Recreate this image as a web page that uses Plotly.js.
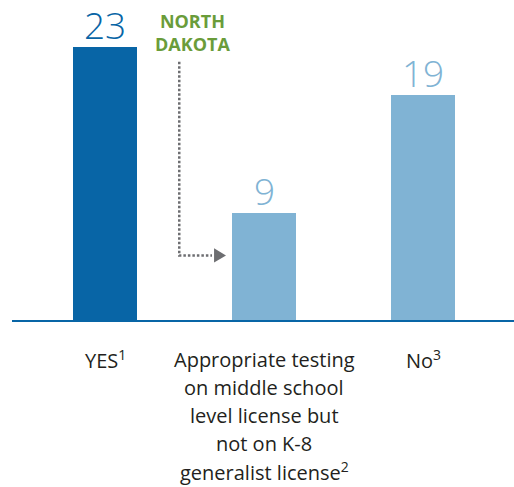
<!DOCTYPE html>
<html>
<head>
<meta charset="utf-8">
<script src="https://cdn.plot.ly/plotly-3.0.1.min.js"></script>
<style>
html,body{margin:0;padding:0;background:#fff;}
#chart{width:514px;height:487px;}
</style>
</head>
<body>
<div id="chart"></div>
<script>
// ---- data ----
const categories = ["YES", "Middle school only", "No"];
const values = [23, 9, 19];
const labelLines = [
  ["YES<sup>1</sup>"],
  ["Appropriate testing", "on middle school", "level license but", "not on K-8", "generalist license<sup>2</sup>"],
  ["No<sup>3</sup>"]
];
const barColors = ["#0865a6", "#80b3d4", "#80b3d4"];
const calloutText = "NORTH<br>DAKOTA";

// ---- layout constants ----
const W = 514, H = 487;
const mL = 12, mR = 0, mT = 0, mB = 167;
const plotH = H - mT - mB; // 320
const pxPerUnit = 11.85;
const yMax = plotH / pxPerUnit;
const catStep = 159, firstCenter = 105 - mL; // pixels within plot
const xMin = -firstCenter / catStep;
const xMax = ((W - mL - mR) - firstCenter) / catStep;

const idx = categories.map((c, i) => i);

const trace = {
  type: "bar",
  x: idx,
  y: values,
  width: 0.4025,
  marker: {color: barColors, line: {width: 0}},
  hoverinfo: "none",
  cliponaxis: false
};

const annotations = [];
// value labels
values.forEach((v, i) => {
  annotations.push({
    x: i, y: v, xref: "x", yref: "y",
    text: String(v), showarrow: false, borderpad: 0,
    xanchor: "center", yanchor: "bottom", yshift: -4,
    font: {family: "Open Sans, sans-serif", size: 37, weight: 300, color: barColors[i]}
  });
});
// category labels (one annotation per line)
const lineStep = 28, firstLineOffset = 39; // px below axis
labelLines.forEach((lines, i) => {
  lines.forEach((t, j) => {
    annotations.push({
      x: i, y: 0, xref: "x", yref: "paper",
      text: t, showarrow: false,
      xanchor: "center", yanchor: "middle",
      yshift: -(firstLineOffset + j * lineStep),
      font: {family: "Open Sans, sans-serif", size: 20, color: "#231f20"}
    });
  });
});
// callout label
annotations.push({
  x: 0.553, y: 1, xref: "x", yref: "paper",
  text: "<b>" + calloutText + "</b>", showarrow: false,
  xanchor: "center", yanchor: "middle",
  yshift: -32,
  font: {family: "Open Sans, sans-serif", size: 18, color: "#6a9c3a"}
});

const shapes = [
  {
    type: "path", xref: "x", yref: "y",
    path: "M 0.467 21.8 L 0.467 5.44 L 0.673 5.44",
    line: {color: "#6d6e71", width: 2.5, dash: "2.5px,2px"}
  },
  {
    type: "path", xref: "x", yref: "y",
    path: "M 0.686 6.05 L 0.761 5.44 L 0.686 4.85 Z",
    fillcolor: "#6d6e71", line: {width: 0}
  }
];

const layout = {
  width: W, height: H,
  margin: {l: mL, r: mR, t: mT, b: mB, pad: 0},
  paper_bgcolor: "#ffffff", plot_bgcolor: "#ffffff",
  showlegend: false,
  bargap: 0,
  xaxis: {
    range: [xMin, xMax], showgrid: false, zeroline: false,
    showticklabels: false, ticks: "", fixedrange: true,
    showline: true, linecolor: "#0865a6", linewidth: 2
  },
  yaxis: {
    range: [0, yMax], showgrid: false, zeroline: false,
    showticklabels: false, ticks: "", showline: false, fixedrange: true
  },
  annotations: annotations,
  shapes: shapes
};

Plotly.newPlot("chart", [trace], layout, {displayModeBar: false, staticPlot: true});
</script>
</body>
</html>
